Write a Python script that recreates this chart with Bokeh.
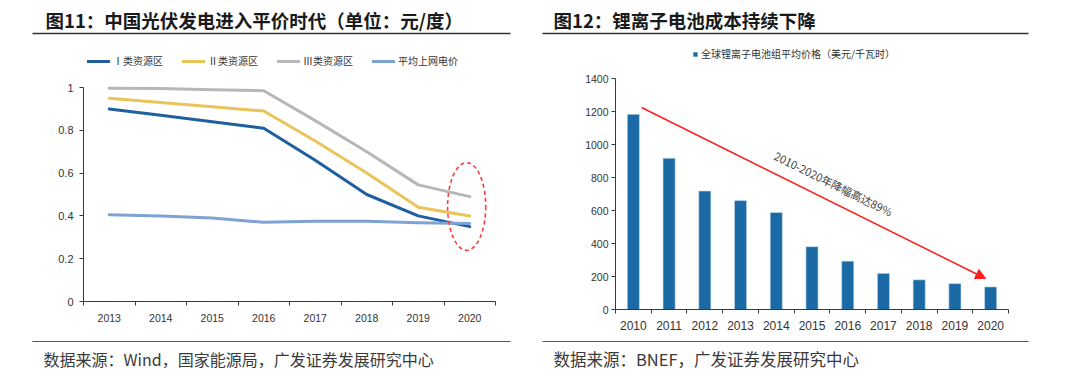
from bokeh.plotting import figure
from bokeh.layouts import row
from bokeh.models import (Range1d, FixedTicker, Label, Legend, LegendItem, Arrow,
                          NormalHead, LinearAxis)
from bokeh.embed import file_html
from bokeh.resources import INLINE

# ---------------- data ----------------
years_l = ["2013", "2014", "2015", "2016", "2017", "2018", "2019", "2020"]
zone1 = [0.90, 0.87, 0.84, 0.81, 0.66, 0.50, 0.40, 0.35]
zone2 = [0.95, 0.93, 0.91, 0.89, 0.75, 0.60, 0.44, 0.40]
zone3 = [0.997, 0.995, 0.99, 0.985, 0.845, 0.70, 0.545, 0.49]
grid_price = [0.405, 0.40, 0.39, 0.37, 0.375, 0.375, 0.368, 0.365]
series_names = ["Ⅰ类资源区", "Ⅱ类资源区", "Ⅲ类资源区", "平均上网电价"]
yticks_l = [0, 0.2, 0.4, 0.6, 0.8, 1.0]
ylabels_l = ["0", "0.2", "0.4", "0.6", "0.8", "1"]

years_r = ["2010", "2011", "2012", "2013", "2014", "2015", "2016", "2017", "2018", "2019", "2020"]
battery_price = [1183, 917, 718, 660, 588, 381, 293, 219, 180, 157, 137]
battery_label = "全球锂离子电池组平均价格（美元/千瓦时）"
yticks_r = [0, 200, 400, 600, 800, 1000, 1200, 1400]

title_l = "图11：中国光伏发电进入平价时代（单位：元/度）"
title_r = "图12：锂离子电池成本持续下降"
source_l = "数据来源：Wind，国家能源局，广发证券发展研究中心"
source_r = "数据来源：BNEF，广发证券发展研究中心"
trend_text = "2010-2020年降幅高达89%"

# annotation geometry (data units)
ellipse_x, ellipse_y, ellipse_w, ellipse_h = 7.44, 0.444, 0.74, 0.41
arrow_x0, arrow_y0, arrow_x1, arrow_y1 = 0.73, 1224, 10.36, 188
trend_x, trend_y, trend_angle = 6.10, 764, -0.46

CJK = "Noto Sans CJK SC"
LAT = "Liberation Sans"
W, H = 540, 378

# ---------------- layout geometry (page pixels) ----------------
# left panel: plot area x 83..495, y 87 (top=1) .. 301 (0)
L_AX, L_UX, L_Y0, L_UY = 83, 412 / 8, 301, 214 / 1.0
# right panel (offset 540): plot area x 615..1008, y 78 (1400) .. 309 (0)
R_OFF = 540
R_AX, R_UX, R_Y0, R_UY = 615, 393 / 11, 309, 231 / 1400


def mk_fig(off, ax, ux, y0, uy):
    xr = Range1d(-(ax - off) / ux, (off + W - ax) / ux)
    yr = Range1d(-(H - y0) / uy, y0 / uy)
    p = figure(width=W, height=H, x_range=xr, y_range=yr, output_backend="svg",
               toolbar_location=None, x_axis_type=None, y_axis_type=None,
               min_border=0, title=None)
    p.outline_line_color = None
    p.grid.visible = False
    p.background_fill_color = "white"
    p.border_fill_color = "white"
    p.min_border_left = p.min_border_right = p.min_border_top = p.min_border_bottom = 0
    return p


def conv(off, ax, ux, y0, uy):
    return lambda px, py: ((px - ax) / ux, (y0 - py) / uy)


def add_axes(p, n, labels, yticks, ylabel_over, xfs, yfs, xstand, ystand, ytop):
    xs = [i + 0.5 for i in range(n)]
    xa = LinearAxis(fixed_location=0, bounds=(0, n),
                    ticker=FixedTicker(ticks=xs, minor_ticks=list(range(n + 1))))
    xa.major_label_overrides = {x: s for x, s in zip(xs, labels)}
    xa.axis_line_color = "#3a3a3a"
    xa.major_tick_line_color = None
    xa.major_tick_out = 0
    xa.major_tick_in = 0
    xa.minor_tick_line_color = "#3a3a3a"
    xa.minor_tick_out = 4
    xa.minor_tick_in = 0
    xa.major_label_text_font = LAT
    xa.major_label_text_font_size = xfs
    xa.major_label_text_color = "#333333"
    xa.major_label_standoff = xstand
    p.add_layout(xa, "below")
    ya = LinearAxis(fixed_location=0, bounds=(0, ytop), ticker=FixedTicker(ticks=yticks))
    if ylabel_over:
        ya.major_label_overrides = ylabel_over
    ya.axis_line_color = "#3a3a3a"
    ya.major_tick_line_color = "#3a3a3a"
    ya.major_tick_out = 4
    ya.major_tick_in = 0
    ya.minor_tick_line_color = None
    ya.major_label_text_font = LAT
    ya.major_label_text_font_size = yfs
    ya.major_label_text_color = "#333333"
    ya.major_label_standoff = ystand
    p.add_layout(ya, "left")
    return xs


def add_text(p, cv, px, py, text, size, style="normal", color="#333333", font=CJK):
    x, y = cv(px, py)
    p.add_layout(Label(x=x, y=y, text=text, text_font=font, text_font_size=size,
                       text_font_style=style, text_color=color,
                       text_align="left", text_baseline="middle"))


def add_rule(p, cv, x0, x1, py, color, width):
    a = cv(x0, py)
    b = cv(x1, py)
    p.segment(x0=[a[0]], y0=[a[1]], x1=[b[0]], y1=[b[1]], line_color=color,
              line_width=width)


# ---------------- left chart ----------------
pl = mk_fig(0, L_AX, L_UX, L_Y0, L_UY)
cl = conv(0, L_AX, L_UX, L_Y0, L_UY)
xs_l = add_axes(pl, len(years_l), years_l, yticks_l,
                {t: s for t, s in zip(yticks_l, ylabels_l)}, "10.5px", "11px", 8, 6, 1.0)
colors_l = ["#1f5f9f", "#e8c45a", "#b7b7b7", "#7ea2d4"]
renderers = []
for ys, c in zip([zone1, zone2, zone3, grid_price], colors_l):
    renderers.append(pl.line(xs_l, ys, line_color=c, line_width=3,
                             line_join="round", line_cap="round"))

pl.ellipse(x=[ellipse_x], y=[ellipse_y], width=ellipse_w, height=ellipse_h,
           fill_color=None, line_color="#ff3b3b", line_width=1.6, line_dash="4 3")

leg_l = Legend(items=[LegendItem(label=n, renderers=[r]) for n, r in zip(series_names, renderers)],
               orientation="horizontal", location=(87, H - 68), padding=0, margin=0,
               spacing=3, glyph_width=23, glyph_height=12, label_height=12,
               label_width=66, label_standoff=3, border_line_color=None,
               background_fill_alpha=0, label_text_font=CJK,
               label_text_font_size="10px", label_text_color="#333333")
pl.add_layout(leg_l, "center")

add_text(pl, cl, 45, 19.5, title_l, "18.5px", style="bold", color="#1a1a1a")
add_rule(pl, cl, 32, 510, 33, "#333333", 1.5)
add_rule(pl, cl, 32, 510, 341, "#555555", 1.2)
add_text(pl, cl, 43, 358, source_l, "16px", color="#3a3a3a")

# ---------------- right chart ----------------
pr = mk_fig(R_OFF, R_AX, R_UX, R_Y0, R_UY)
cr = conv(R_OFF, R_AX, R_UX, R_Y0, R_UY)
xs_r = add_axes(pr, len(years_r), years_r, yticks_r, None, "12px", "10.5px", 7, 3, 1400)
bars = pr.vbar(x=xs_r, top=battery_price, width=0.34, fill_color="#1b6aa5",
               line_color="#cfe0ef", line_width=0.6)

pr.add_layout(Arrow(end=NormalHead(size=10, fill_color="#ff1e1e", line_color="#ff1e1e"),
                    x_start=arrow_x0, y_start=arrow_y0, x_end=arrow_x1, y_end=arrow_y1,
                    line_color="#ff1e1e", line_width=1.5))
pr.add_layout(Label(x=trend_x, y=trend_y, text=trend_text, angle=trend_angle,
                    text_align="center", text_baseline="middle", text_font=CJK,
                    text_font_size="11px", text_color="#404040"))

leg_r = Legend(items=[LegendItem(label=battery_label, renderers=[bars])],
               orientation="horizontal", location=(692 - R_OFF, H - 61), padding=0, margin=0,
               glyph_width=6, glyph_height=6, label_height=12, label_standoff=3,
               border_line_color=None, background_fill_alpha=0, label_text_font=CJK,
               label_text_font_size="10px", label_text_color="#333333")
pr.add_layout(leg_r, "center")

add_text(pr, cr, 553, 19.5, title_r, "18.5px", style="bold", color="#1a1a1a")
add_rule(pr, cr, 542, 1028, 33, "#333333", 1.5)
add_rule(pr, cr, 542, 1028, 341, "#555555", 1.2)
add_text(pr, cr, 553, 358, source_r, "16.5px", color="#3a3a3a")

layout = row(pl, pr)
open("out.html", "w").write(file_html(layout, INLINE))
